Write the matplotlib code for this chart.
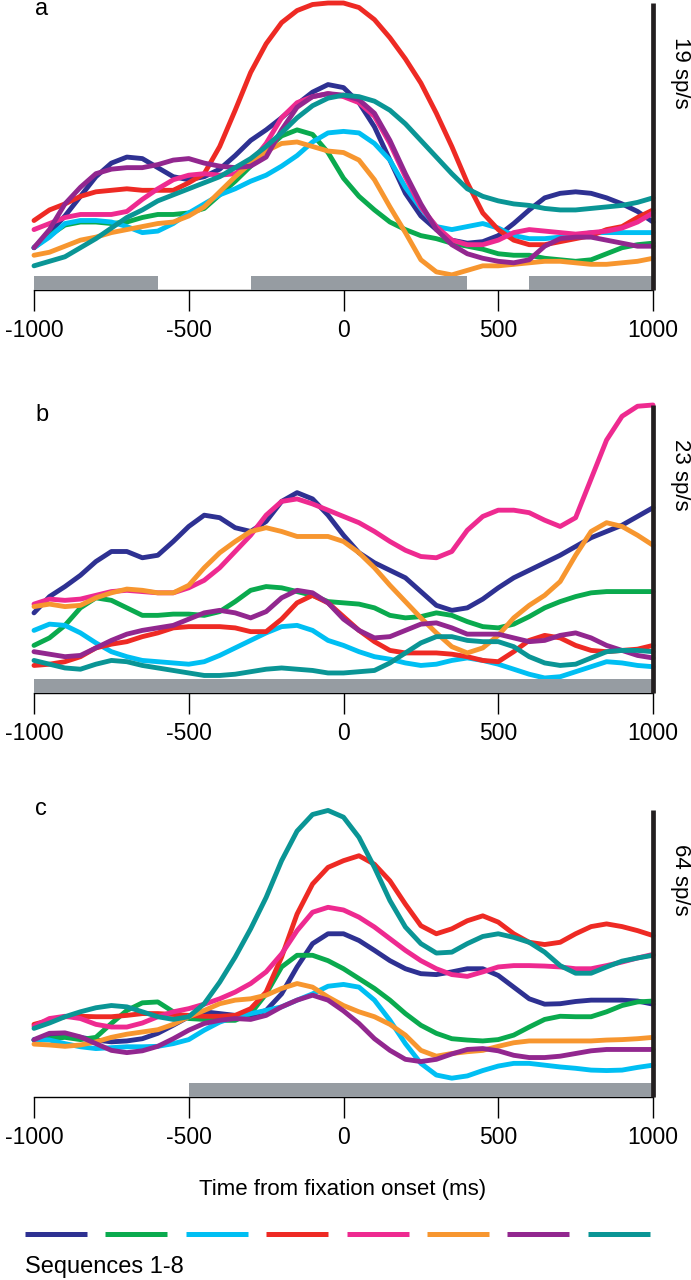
import matplotlib
matplotlib.use("Agg")
import matplotlib.pyplot as plt
from matplotlib.lines import Line2D

plt.rcParams["font.family"] = ["Liberation Sans", "DejaVu Sans"]

# ---------------- data (spikes/s, sampled every 50 ms) ----------------
time_ms = list(range(-1000, 1001, 50))
tick_pos = [-1000, -500, 0, 500, 1000]
tick_labels = ["-1000", "-500", "0", "500", "1000"]
seq_colors = ["#2e3192", "#0aaa4e", "#00bff3", "#ee2a24",
              "#ee2a90", "#f7962f", "#92278f", "#0a9595"]

# panel a (scale 19 sp/s)
a_s1 = [2.8, 3.8, 4.9, 6.2, 7.5, 8.4, 8.8, 8.7, 8.1, 7.5, 7.3, 7.5, 8.0, 8.9, 9.9, 10.6, 11.4, 12.3, 13.1, 13.6, 13.4,
        12.4, 10.8, 8.6, 6.4, 4.9, 4.0, 3.3, 3.1, 3.2, 3.6, 4.4, 5.3, 6.1, 6.4, 6.5, 6.4, 6.1, 5.7, 5.2, 4.5]
a_s2 = [2.8, 3.6, 4.3, 4.5, 4.5, 4.4, 4.5, 4.8, 5.0, 5.0, 5.1, 5.4, 6.3, 7.2, 8.2, 9.3, 10.2, 10.6, 10.3, 9.1, 7.4,
        6.2, 5.3, 4.5, 4.0, 3.6, 3.4, 3.1, 2.9, 2.7, 2.4, 2.3, 2.3, 2.1, 2.0, 1.9, 2.0, 2.4, 2.8, 3.0, 3.1]
a_s3 = [2.8, 3.5, 4.4, 4.6, 4.6, 4.5, 4.2, 3.8, 3.9, 4.4, 5.1, 5.7, 6.3, 6.7, 7.2, 7.6, 8.2, 8.9, 9.8, 10.4, 10.5,
        10.4, 9.7, 8.6, 6.8, 5.4, 4.2, 4.0, 4.2, 4.4, 4.1, 3.6, 3.4, 3.4, 3.5, 3.6, 3.8, 3.8, 3.8, 3.8, 3.8]
a_s4 = [4.6, 5.3, 5.7, 6.2, 6.5, 6.6, 6.7, 6.6, 6.6, 6.6, 7.1, 7.7, 9.5, 11.9, 14.4, 16.3, 17.7, 18.5, 18.9, 19.0, 19.0,
        18.7, 17.9, 16.7, 15.3, 13.7, 11.7, 9.5, 7.1, 5.1, 4.0, 3.3, 3.0, 3.0, 3.2, 3.4, 3.6, 4.0, 4.2, 4.8, 5.3]
a_s5 = [4.0, 4.4, 4.8, 5.0, 5.0, 5.0, 5.2, 6.0, 6.7, 7.3, 7.6, 7.7, 7.6, 7.7, 8.4, 9.7, 11.4, 12.4, 12.8, 13.0, 12.8,
        12.4, 11.5, 9.7, 7.5, 5.5, 4.2, 3.3, 3.0, 3.0, 3.3, 3.8, 4.0, 3.9, 3.8, 3.7, 3.8, 3.9, 4.1, 4.5, 5.1]
a_s6 = [2.3, 2.5, 2.9, 3.3, 3.5, 3.8, 4.0, 4.2, 4.4, 4.5, 4.9, 5.5, 6.5, 7.5, 8.4, 9.2, 9.7, 9.8, 9.5, 9.2, 9.1,
        8.6, 7.3, 5.5, 3.8, 2.0, 1.2, 1.0, 1.3, 1.6, 1.6, 1.7, 1.8, 1.9, 1.9, 1.8, 1.7, 1.7, 1.8, 1.9, 2.1]
a_s7 = [2.8, 4.0, 5.7, 6.8, 7.7, 8.0, 8.1, 8.1, 8.3, 8.6, 8.7, 8.4, 8.2, 8.1, 8.2, 8.8, 10.6, 12.1, 12.8, 13.0, 12.9,
        12.6, 11.7, 9.9, 7.7, 5.7, 4.0, 3.0, 2.4, 2.1, 1.9, 1.8, 2.0, 2.9, 3.4, 3.5, 3.5, 3.3, 3.1, 2.9, 2.9]
a_s8 = [1.6, 1.9, 2.2, 2.8, 3.4, 4.1, 4.8, 5.3, 5.9, 6.3, 6.7, 7.1, 7.5, 8.1, 8.7, 9.5, 10.4, 11.4, 12.2, 12.7, 12.9,
        12.8, 12.5, 11.9, 11.0, 9.9, 8.8, 7.7, 6.7, 6.2, 5.9, 5.7, 5.6, 5.4, 5.3, 5.3, 5.4, 5.5, 5.6, 5.8, 6.1]

# panel b (scale 23 sp/s)
b_s1 = [6.4, 7.7, 8.5, 9.4, 10.5, 11.3, 11.3, 10.8, 11.0, 12.1, 13.3, 14.2, 14.0, 13.2, 12.9, 13.7, 15.3, 16.0, 15.5, 14.2, 12.6,
        11.2, 10.4, 9.8, 9.2, 8.1, 7.0, 6.6, 6.8, 7.5, 8.4, 9.2, 9.8, 10.4, 11.0, 11.7, 12.4, 12.9, 13.4, 14.1, 14.8]
b_s2 = [3.8, 4.4, 5.4, 6.8, 7.6, 7.4, 6.8, 6.2, 6.2, 6.3, 6.3, 6.2, 6.5, 7.3, 8.2, 8.5, 8.4, 8.1, 7.8, 7.3, 7.2,
        7.1, 6.8, 6.2, 6.0, 6.1, 6.4, 6.2, 5.7, 5.3, 5.2, 5.5, 6.1, 6.8, 7.3, 7.7, 8.0, 8.1, 8.1, 8.1, 8.1]
b_s3 = [5.0, 5.5, 5.4, 4.8, 4.0, 3.3, 2.9, 2.6, 2.5, 2.4, 2.3, 2.5, 3.0, 3.6, 4.2, 4.8, 5.3, 5.4, 5.0, 4.2, 3.8,
        3.3, 2.9, 2.7, 2.4, 2.2, 2.3, 2.6, 2.8, 2.6, 2.3, 1.9, 1.5, 1.2, 1.3, 1.7, 2.1, 2.5, 2.4, 2.2, 2.1]
b_s4 = [2.2, 2.3, 2.5, 2.9, 3.6, 3.9, 4.1, 4.5, 4.8, 5.2, 5.3, 5.3, 5.3, 5.2, 4.9, 4.9, 5.9, 7.2, 7.8, 7.2, 6.1,
        5.0, 4.1, 3.4, 3.2, 3.2, 3.2, 3.1, 2.9, 2.6, 2.5, 3.3, 4.2, 4.6, 4.4, 3.8, 3.4, 3.3, 3.4, 3.5, 3.8]
b_s5 = [7.1, 7.5, 7.4, 7.5, 7.8, 8.1, 8.2, 8.1, 8.0, 8.0, 8.4, 9.0, 10.0, 11.3, 12.6, 14.2, 15.3, 15.5, 15.1, 14.6, 14.1,
        13.6, 12.9, 12.1, 11.4, 10.9, 10.8, 11.3, 13.0, 14.1, 14.6, 14.6, 14.4, 13.8, 13.3, 14.0, 17.1, 20.2, 22.1, 22.9, 23.0]
b_s6 = [6.9, 7.1, 6.9, 7.0, 7.6, 8.0, 8.3, 8.2, 8.0, 8.0, 8.6, 10.0, 11.2, 12.1, 12.9, 13.2, 12.9, 12.5, 12.5, 12.5, 12.1,
        11.2, 10.0, 8.6, 7.3, 6.0, 4.8, 3.7, 3.2, 3.6, 4.6, 6.0, 7.0, 7.8, 8.9, 11.0, 12.9, 13.6, 13.3, 12.6, 11.8]
b_s7 = [3.3, 3.1, 2.9, 3.0, 3.6, 4.2, 4.7, 5.0, 5.2, 5.4, 5.9, 6.4, 6.6, 6.4, 6.0, 6.5, 7.6, 8.2, 8.0, 7.2, 5.9,
        5.0, 4.4, 4.5, 5.0, 5.5, 5.6, 5.2, 4.7, 4.7, 4.7, 4.4, 4.1, 4.2, 4.6, 4.8, 4.4, 3.8, 3.4, 3.0, 2.8]
b_s8 = [2.6, 2.3, 2.0, 1.9, 2.3, 2.6, 2.5, 2.2, 2.0, 1.8, 1.6, 1.4, 1.4, 1.5, 1.7, 1.9, 2.0, 1.9, 1.8, 1.6, 1.6,
        1.7, 1.8, 2.4, 3.2, 4.0, 4.5, 4.5, 4.2, 4.1, 4.1, 3.7, 2.9, 2.4, 2.2, 2.3, 2.8, 3.3, 3.4, 3.4, 3.3]

# panel c (scale 64 sp/s)
c_s1 = [12.7, 13.6, 13.8, 13.3, 12.7, 12.3, 12.5, 13.0, 14.2, 16.0, 17.9, 19.0, 18.6, 18.2, 18.2, 19.3, 23.0, 29.0, 34.2, 36.4, 36.4,
        34.9, 32.7, 30.4, 28.6, 27.5, 27.3, 27.9, 28.6, 28.6, 27.1, 24.5, 21.9, 20.7, 20.8, 21.3, 21.6, 21.6, 21.6, 21.4, 20.7]
c_s2 = [12.7, 13.0, 13.3, 12.8, 13.3, 16.4, 19.3, 21.0, 21.2, 19.0, 17.5, 17.3, 17.1, 17.1, 18.6, 23.0, 29.0, 31.6, 31.6, 30.4, 28.6,
        26.4, 24.2, 21.6, 18.6, 16.0, 14.2, 13.0, 12.7, 12.5, 12.8, 13.8, 15.6, 17.3, 18.0, 17.9, 17.9, 19.0, 20.4, 21.2, 21.4]
c_s3 = [12.8, 12.7, 11.9, 11.2, 10.8, 11.0, 11.2, 11.2, 11.3, 11.9, 12.8, 14.9, 16.7, 17.9, 18.6, 19.3, 20.1, 21.6, 23.0, 24.7, 25.1,
        24.5, 21.6, 17.1, 11.9, 7.5, 4.9, 4.2, 4.7, 5.9, 6.9, 7.5, 7.5, 7.1, 6.7, 6.4, 6.0, 5.9, 6.0, 6.6, 7.1]
c_s4 = [16.2, 17.1, 17.9, 18.0, 17.9, 17.9, 18.2, 18.6, 18.6, 18.4, 18.2, 18.0, 18.0, 18.2, 19.7, 23.4, 31.2, 40.8, 47.5, 51.2, 52.7,
        53.8, 51.9, 48.2, 43.0, 38.2, 36.4, 37.5, 39.3, 40.4, 39.0, 36.4, 34.5, 34.0, 34.5, 36.4, 38.0, 38.6, 38.0, 37.1, 36.0]
c_s5 = [15.8, 17.5, 18.0, 17.5, 16.2, 15.6, 15.6, 16.5, 17.9, 19.0, 19.7, 20.7, 21.9, 23.4, 25.3, 27.9, 31.9, 37.1, 41.2, 42.3, 41.7,
        40.1, 37.9, 35.3, 32.7, 30.4, 28.6, 27.3, 26.9, 27.9, 29.0, 29.3, 29.3, 29.2, 29.0, 28.6, 28.6, 29.3, 30.1, 31.0, 31.8]
c_s6 = [11.8, 11.6, 11.3, 11.6, 12.3, 13.3, 14.0, 14.5, 15.0, 16.2, 17.9, 19.3, 20.8, 21.6, 21.9, 22.7, 24.2, 25.3, 24.5, 22.3, 20.4,
        19.0, 17.9, 16.2, 13.8, 10.4, 9.1, 9.7, 10.1, 10.4, 11.3, 12.1, 12.5, 12.5, 12.5, 12.5, 12.5, 12.7, 12.8, 13.0, 13.3]
c_s7 = [12.8, 14.2, 14.3, 13.4, 11.9, 10.4, 9.9, 10.3, 11.3, 13.0, 14.9, 16.4, 17.1, 17.5, 17.3, 18.2, 20.1, 21.6, 22.7, 21.6, 19.2,
        16.4, 13.0, 10.4, 8.4, 7.9, 8.4, 9.6, 10.6, 10.8, 10.3, 9.3, 8.8, 8.8, 9.1, 9.7, 10.3, 10.6, 10.6, 10.6, 10.6]
c_s8 = [15.3, 16.5, 17.9, 19.0, 19.9, 20.4, 20.1, 19.0, 17.9, 17.3, 17.9, 20.8, 25.6, 31.2, 37.5, 44.5, 52.7, 59.3, 63.0, 63.9, 62.4,
        57.9, 51.2, 43.8, 37.9, 34.2, 32.1, 32.3, 34.2, 35.8, 36.4, 35.6, 34.5, 32.3, 29.3, 27.6, 27.6, 29.0, 30.3, 31.0, 31.6]

# grey epochs (ms)
bars_a = [(-1000, -600), (-300, 400), (600, 1000)]
bars_b = [(-1000, 1000)]
bars_c = [(-500, 1000)]

scale_a, scale_b, scale_c = 19, 23, 64

# ---------------- figure ----------------
W, H = 691, 1280
fig = plt.figure(figsize=(W / 100, H / 100), dpi=100)
GREY = "#969ca2"


def draw_panel(bottom_px, top_px, letter, letter_base_px, curves, bars, scale):
    ax = fig.add_axes([34 / W, 1 - bottom_px / H, 619 / W, (bottom_px - top_px) / H])
    for color, vals in zip(seq_colors, curves):
        ax.plot(time_ms, vals, color=color, lw=3.5, clip_on=False,
                solid_joinstyle="round", solid_capstyle="round", zorder=2)
    for x0, x1 in bars:
        ax.axvspan(x0, x1, ymin=0, ymax=0.05, color=GREY, lw=0, zorder=3)
    # scale bar
    ax.plot([1000, 1000], [0, scale], color="#231f20", lw=3.4,
            solid_capstyle="butt", clip_on=False, zorder=4)
    ax.text(1.044, 1 - 70 / (bottom_px - top_px), f"{scale} sp/s", transform=ax.transAxes,
            rotation=270, ha="center", va="center", fontsize=16)
    ax.set_xlim(-1000, 1000)
    ax.set_ylim(0, scale)
    for s in ("left", "top", "right"):
        ax.spines[s].set_visible(False)
    ax.spines["bottom"].set_linewidth(1.0)
    ax.set_yticks([])
    ax.set_xticks(tick_pos)
    ax.set_xticklabels(tick_labels)
    ax.tick_params(axis="x", direction="out", length=15, width=1.0, pad=6, labelsize=16.5)
    fig.text(35 / W, 1 - letter_base_px / H, letter, fontsize=17, ha="left", va="baseline")
    return ax


draw_panel(290, 3, "a", 15, [a_s1, a_s2, a_s3, a_s4, a_s5, a_s6, a_s7, a_s8], bars_a, scale_a)
draw_panel(693, 405, "b", 421, [b_s1, b_s2, b_s3, b_s4, b_s5, b_s6, b_s7, b_s8], bars_b, scale_b)
draw_panel(1097, 810, "c", 815, [c_s1, c_s2, c_s3, c_s4, c_s5, c_s6, c_s7, c_s8], bars_c, scale_c)

fig.text(343 / W, 1 - 1195 / H, "Time from fixation onset (ms)", ha="center", va="baseline", fontsize=16)

# legend swatches
for i, c in enumerate(seq_colors):
    x0 = 25 + i * 80.4
    fig.add_artist(Line2D([x0 / W, (x0 + 62) / W], [1 - 1234 / H] * 2, transform=fig.transFigure,
                          color=c, lw=3.6, solid_capstyle="butt"))
fig.text(25 / W, 1 - 1273 / H, "Sequences 1-8", ha="left", va="baseline", fontsize=17)

fig.savefig("out.png", dpi=100)
